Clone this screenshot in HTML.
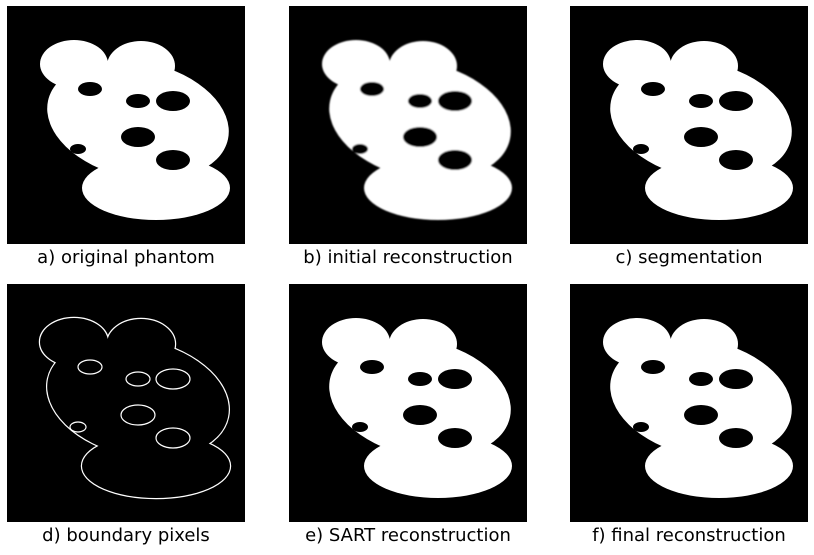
<!DOCTYPE html>
<html><head><meta charset="utf-8"><style>
body{margin:0;background:#fff;width:814px;height:551px;overflow:hidden;font-family:"DejaVu Sans",sans-serif}
text{font-family:"DejaVu Sans",sans-serif;font-size:18px}
</style></head><body>
<svg id="fig" xmlns="http://www.w3.org/2000/svg" xmlns:xlink="http://www.w3.org/1999/xlink" width="814" height="551" viewBox="0 0 814 551">
<defs>
<g id="blob">
<ellipse cx="67" cy="58" rx="34" ry="24"/>
<ellipse cx="134" cy="60" rx="34" ry="25"/>
<ellipse cx="131" cy="114" rx="92" ry="58" transform="rotate(12 131 114)"/>
<ellipse cx="149" cy="182" rx="74" ry="32"/>
</g>
<g id="holes">
<ellipse cx="83" cy="83" rx="12" ry="7"/>
<ellipse cx="131" cy="95" rx="12" ry="7"/>
<ellipse cx="166" cy="95" rx="17" ry="10"/>
<ellipse cx="131" cy="131" rx="17" ry="10"/>
<ellipse cx="166" cy="154" rx="17" ry="10"/>
<ellipse cx="71" cy="143" rx="8" ry="5"/>
</g>
<filter id="bl"><feGaussianBlur stdDeviation="0.8"/></filter>
</defs>

<g transform="translate(7,6)">
<rect width="238" height="238" fill="#000"/>
<use xlink:href="#blob" fill="#fff"/><use xlink:href="#holes" fill="#000"/>
</g>
<text x="126" y="263" text-anchor="middle">a) original phantom</text>

<g transform="translate(289,6)">
<rect width="238" height="238" fill="#000"/>
<g filter="url(#bl)"><use xlink:href="#blob" fill="#fff"/><use xlink:href="#holes" fill="#000"/></g>
</g>
<text x="408" y="263" text-anchor="middle">b) initial reconstruction</text>

<g transform="translate(570,6)">
<rect width="238" height="238" fill="#000"/>
<use xlink:href="#blob" fill="#fff"/><use xlink:href="#holes" fill="#000"/>
</g>
<text x="689" y="263" text-anchor="middle">c) segmentation</text>

<g transform="translate(7,284)">
<rect width="238" height="238" fill="#000"/>
<use xlink:href="#blob" fill="#fff" stroke="#fff" stroke-width="2.4"/>
<use xlink:href="#blob" fill="#000"/>
<use xlink:href="#holes" fill="#000" stroke="#fff" stroke-width="1.2"/>
</g>
<text x="126" y="541" text-anchor="middle">d) boundary pixels</text>

<g transform="translate(289,284)">
<rect width="238" height="238" fill="#000"/>
<use xlink:href="#blob" fill="#fff"/><use xlink:href="#holes" fill="#000"/>
</g>
<text x="408" y="541" text-anchor="middle">e) SART reconstruction</text>

<g transform="translate(570,284)">
<rect width="238" height="238" fill="#000"/>
<use xlink:href="#blob" fill="#fff"/><use xlink:href="#holes" fill="#000"/>
</g>
<text x="689" y="541" text-anchor="middle">f) final reconstruction</text>
</svg>
</body></html>
